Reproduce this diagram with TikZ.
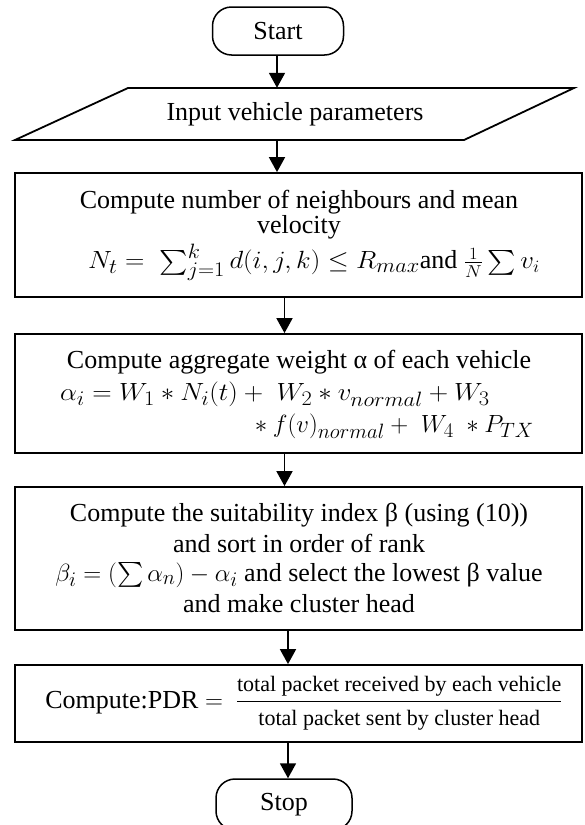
\documentclass[tikz,border=0pt]{standalone}
\usepackage{amsmath}
\usepackage{fontspec}
\setmainfont{Liberation Serif}
\newfontfamily\fracfont{Liberation Serif}
\usetikzlibrary{arrows.meta}
\newcommand{\wm}[1]{\scalebox{1.08}[1]{#1}}
\begin{document}
\begin{tikzpicture}[x=1pt,y=-1pt,
  every node/.style={font=\fontsize{26}{28}\selectfont},
  boxline/.style={draw, line width=1.8pt},
  box/.style={boxline, rectangle, inner sep=0pt, minimum width=567pt},
  term/.style={draw, line width=1.5pt, rounded corners=19pt, inner sep=0pt},
  arr/.style={line width=1.8pt, -{Triangle[length=15pt,width=16pt]}},
  txt/.style={inner sep=0pt, align=center},
  mth/.style={inner sep=0pt, font=\fontsize{28}{30}\selectfont}]
\useasboundingbox (0,0) rectangle (584,825);

\coordinate (ax1) at (277,0);
\coordinate (ax2) at (284.5,0);
\coordinate (ax3) at (288,0);

% Start
\node[term, minimum width=131pt, minimum height=48pt] (start) at (278,31) {Start};

% Input parallelogram
\node[inner sep=0pt, minimum width=300pt, minimum height=52pt] (para) at (295,114) {Input vehicle parameters};
\coordinate (pTL) at (128,88);
\coordinate (pTR) at (574,88);
\coordinate (pBR) at (464,140);
\coordinate (pBL) at (15,140);
\draw[boxline] (pTL) -- (pTR) -- (pBR) -- (pBL) -- cycle;

% Box 1
\node[box, minimum height=124pt] (b1) at (298.75,235) {};
\node[txt] (b1a) at (299,202) {Compute number of neighbours and mean};
\node[txt] (b1b) at (299,227) {velocity};
\node[mth] (b1c) at (314,262) {\wm{$N_t =\ \sum_{j=1}^{k} d(i,j,k) \le R_{max}$}\fontsize{26}{28}\selectfont and \wm{$\frac{1}{N}\sum v_i$}};

% Box 2
\node[box, minimum height=119pt] (b2) at (298.75,393.5) {};
\node[txt] (b2a) at (299,362) {Compute aggregate weight α of each vehicle};
\node[mth, anchor=west] (b2b) at (60,394) {\wm{$\alpha_i = W_1 * N_i(t) +\ W_2 * v_{normal} + W_3$}};
\node[mth, anchor=east] (b2c) at (534,426) {${}* f(v)_{normal} +\ W_4\ * P_{TX}$};

% Box 3
\node[box, minimum height=143pt] (b3) at (298.75,558.5) {};
\node[txt] (b3a) at (299,515) {Compute the suitability index β (using (10))};
\node[txt] (b3b) at (299,543) {and sort in order of rank};
\node[txt] (b3c) at (299,575) {{\fontsize{28}{30}\selectfont$\beta_i = (\sum \alpha_n) - \alpha_i$} and select the lowest β value};
\node[txt] (b3d) at (299,604) {and make cluster head};

% Box 4
\node[box, minimum height=77pt] (b4) at (298.75,703.5) {};
\node[txt] (b4t) at (304,703) {Compute:PDR $=$\ \ $\dfrac{\hbox{\fracfont\fontsize{22}{24}\selectfont total packet received by each vehicle}}{\hbox{\fracfont\fontsize{22}{24}\selectfont total packet sent by cluster head}}$};

% Stop
\node[term, minimum width=136pt, minimum height=51pt] (stop) at (284,804.5) {Stop};

% Arrows
\draw[arr] (ax1 |- start.south) -- (ax1 |- para.north);
\draw[arr] (ax1 |- para.south) -- (ax1 |- b1.north);
\draw[arr] (ax2 |- b1.south) -- (ax2 |- b2.north);
\draw[arr] (ax2 |- b2.south) -- (ax2 |- b3.north);
\draw[arr] (ax3 |- b3.south) -- (ax3 |- b4.north);
\draw[arr] (ax3 |- b4.south) -- (ax3 |- stop.north);
\end{tikzpicture}
\end{document}
